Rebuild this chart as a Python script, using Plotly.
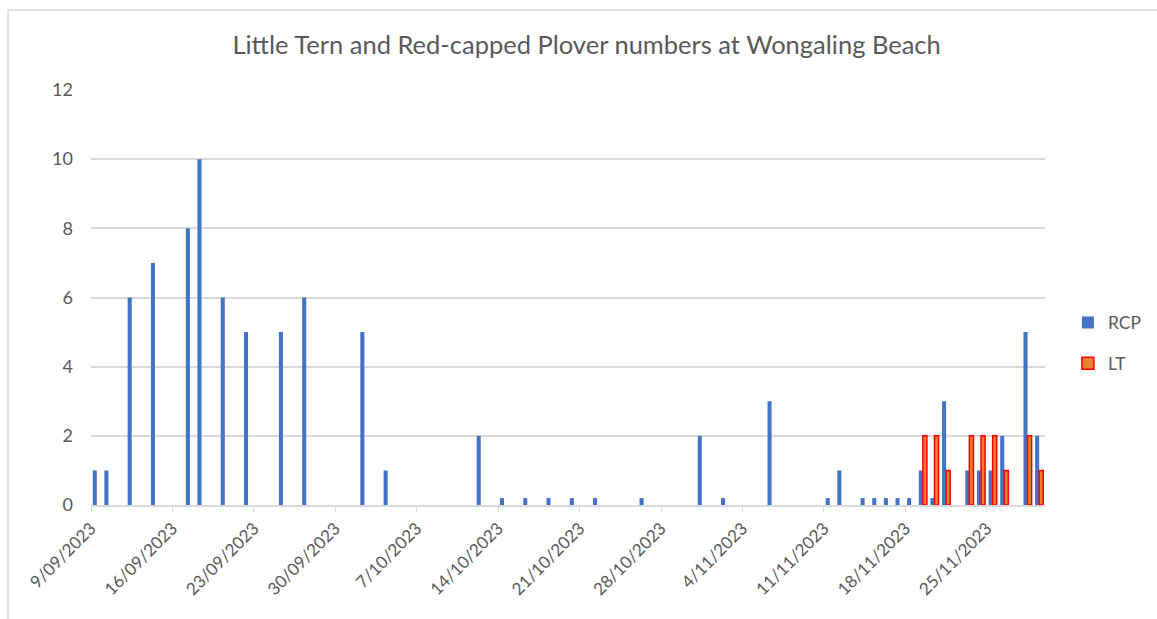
import plotly.graph_objects as go

title = "Little Tern and Red-capped Plover numbers at Wongaling Beach"

rcp_dates = ["2023-09-09", "2023-09-10", "2023-09-12", "2023-09-14", "2023-09-17", "2023-09-18",
             "2023-09-20", "2023-09-22", "2023-09-25", "2023-09-27", "2023-10-02", "2023-10-04",
             "2023-10-12", "2023-10-14", "2023-10-16", "2023-10-18", "2023-10-20", "2023-10-22",
             "2023-10-26", "2023-10-31", "2023-11-02", "2023-11-06", "2023-11-11", "2023-11-12",
             "2023-11-14", "2023-11-15", "2023-11-16", "2023-11-17", "2023-11-18", "2023-11-19",
             "2023-11-20", "2023-11-21", "2023-11-23", "2023-11-24", "2023-11-25", "2023-11-26",
             "2023-11-28", "2023-11-29"]
rcp_values = [1, 1, 6, 7, 8, 10,
              6, 5, 5, 6, 5, 1,
              2, 0.2, 0.2, 0.2, 0.2, 0.2,
              0.2, 2, 0.2, 3, 0.2, 1,
              0.2, 0.2, 0.2, 0.2, 0.2, 1,
              0.2, 3, 1, 1, 1, 2,
              5, 2]

lt_dates = ["2023-11-19", "2023-11-20", "2023-11-21", "2023-11-23", "2023-11-24",
            "2023-11-25", "2023-11-26", "2023-11-28", "2023-11-29"]
lt_values = [2, 2, 1, 2, 2, 2, 1, 2, 1]

x_start = "2023-09-09"
x_end = "2023-11-30"

FONT = "Lato, Carlito, Calibri, sans-serif"
GREY = "#595959"
DAY = 86400000

fig = go.Figure()
fig.add_trace(go.Bar(
    x=rcp_dates, y=rcp_values, name="RCP",
    xperiod=DAY, xperiodalignment="middle",
    marker=dict(color="#4472C4", line=dict(width=0)),
    legendgroup="a",
))
fig.add_trace(go.Bar(
    x=lt_dates, y=lt_values, name="LT",
    xperiod=DAY, xperiodalignment="middle",
    marker=dict(color="#ED7D31", line=dict(color="#FF0000", width=1.5)),
    legendgroup="b",
))

fig.update_layout(
    width=1157, height=619,
    margin=dict(l=91, r=112, t=90, b=114, autoexpand=False),
    paper_bgcolor="white", plot_bgcolor="white",
    barmode="group", bargap=0.3, bargroupgap=0,
    font=dict(family=FONT, color=GREY, size=17),
    title=dict(text=title, x=0.507, xanchor="center", y=0.927, yanchor="middle",
               font=dict(family=FONT, size=25.5, color=GREY)),
    legend=dict(x=1.024, xanchor="left", y=0.39, yanchor="middle",
                font=dict(family=FONT, size=17.5, color=GREY),
                tracegroupgap=15, bgcolor="rgba(0,0,0,0)"),
    xaxis=dict(
        type="date", range=[x_start, x_end],
        tick0=x_start, dtick=7 * DAY, tickformat="%-d/%m/%Y",
        tickangle=-45, ticks="outside", ticklen=5, tickcolor="#d9d9d9",
        showline=True, linecolor="#d9d9d9", linewidth=1.5,
        showgrid=False, zeroline=False, automargin=False,
        tickfont=dict(family=FONT, size=17, color=GREY),
    ),
    yaxis=dict(
        range=[0, 12], dtick=2, showgrid=True, gridcolor="#d9d9d9", gridwidth=1.5,
        zeroline=False, showline=False, ticks="", automargin=False,
        ticklabelstandoff=17,
        tickfont=dict(family=FONT, size=18, color=GREY),
    ),
    shapes=[
        dict(type="rect", xref="paper", yref="paper", x0=-0.087, x1=1.2, y0=1.193, y1=-0.3,
             line=dict(color="#d9d9d9", width=1.5), fillcolor="rgba(0,0,0,0)", layer="below"),
    ],
)

fig.write_html(
    "out.html", config={"displayModeBar": False},
    post_script=("document.body.style.margin='0';"
                 "document.body.style.overflow='hidden';"
                 "document.documentElement.style.overflow='hidden';"),
)
